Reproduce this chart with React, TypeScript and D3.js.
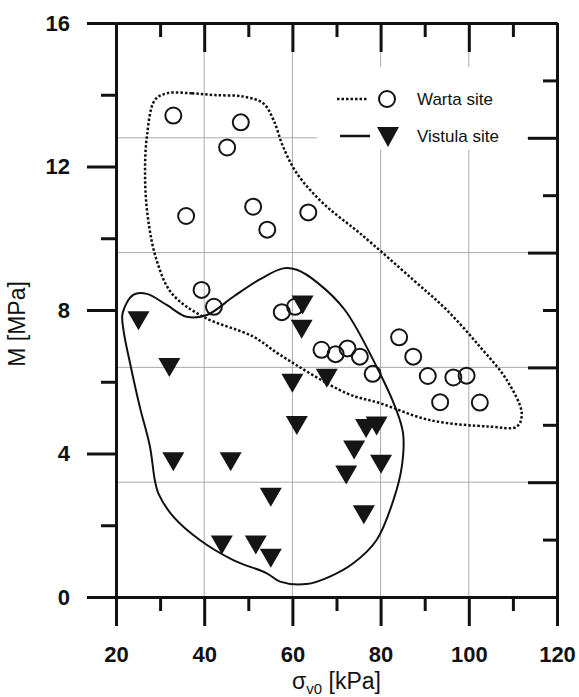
import React, { useEffect, useRef } from 'react';
import * as d3 from 'd3';

// Warta site (open circles)
const wartaStress = [33.0, 48.3, 45.2, 35.9, 51.1, 54.3, 63.6, 39.4, 42.2, 57.6, 60.6, 66.6, 69.8, 72.5, 75.3, 78.2, 84.2, 87.4, 90.7, 96.5, 99.5, 93.5, 102.5];
const wartaM = [13.42, 13.23, 12.53, 10.62, 10.88, 10.24, 10.72, 8.56, 8.09, 7.94, 8.09, 6.89, 6.77, 6.93, 6.7, 6.22, 7.24, 6.7, 6.16, 6.12, 6.17, 5.43, 5.42];

// Vistula site (filled triangles)
const vistulaStress = [25.1, 32.1, 33.0, 46.0, 55.1, 44.0, 51.7, 55.1, 60.0, 61.0, 62.3, 62.1, 67.8, 76.7, 79.1, 74.0, 80.1, 72.2, 76.2];
const vistulaM = [7.7, 6.4, 3.77, 3.77, 2.78, 1.45, 1.45, 1.08, 5.96, 4.78, 8.14, 7.46, 6.1, 4.7, 4.77, 4.1, 3.7, 3.4, 2.29];

// hand drawn envelopes (data units)
const wartaHullX = [31.5, 37.2, 42.4, 48.9, 53.4, 55.7, 57.9, 61.0, 67.0, 75.3, 87.4, 95.0, 102.5, 108.6, 112.0, 110.9, 104.8, 91.2, 79.9, 72.3, 57.2, 51.1, 39.8, 32.6, 29.2, 27.3, 26.6, 27.0, 28.8];
const wartaHullY = [14.04, 14.04, 13.99, 13.95, 13.76, 13.3, 12.55, 11.81, 10.97, 10.14, 8.84, 8.0, 6.98, 6.05, 5.12, 4.75, 4.75, 4.93, 5.4, 5.68, 6.75, 7.26, 7.81, 8.47, 9.39, 10.51, 11.62, 12.83, 13.85];
const vistulaHullX = [21.5, 23.9, 27.0, 31.5, 36.0, 40.6, 46.6, 52.7, 57.9, 61.0, 65.8, 71.9, 79.1, 83.3, 85.1, 84.8, 82.9, 79.1, 73.8, 68.5, 63.2, 57.2, 54.2, 46.6, 39.0, 33.0, 29.6, 28.8, 27.7, 25.4, 23.2, 21.7];
const vistulaHullY = [7.91, 8.42, 8.45, 8.14, 7.81, 7.86, 8.37, 8.86, 9.16, 9.12, 8.75, 8.0, 6.42, 5.3, 4.56, 3.63, 2.7, 1.59, 0.94, 0.57, 0.36, 0.43, 0.66, 1.03, 1.59, 2.24, 2.89, 3.26, 4.19, 5.3, 6.51, 7.44];

const xMajor = [20, 40, 60, 80, 100, 120];
const xMinor = [30, 50, 70, 90, 110];
const yMajor = [0, 4, 8, 12, 16];
const yMinor = [2, 6, 10, 14];
const rightTicks = [1.6, 3.2, 4.8, 6.4, 8.0, 9.6, 11.2, 12.8, 14.4];
const gridX = [40, 60, 80, 100];
const gridY = [3.2, 6.4, 9.6, 12.8];

const FONT = "Arial, 'Liberation Sans', sans-serif";

const App = () => {
    const svgRef = useRef<SVGSVGElement>(null);
    const width = 579;
    const height = 697;

    useEffect(() => {
        const root = d3.select(svgRef.current);
        root.selectAll('*').remove();

        const margin = { top: 23, right: 22, bottom: 100, left: 116 };
        const innerWidth = width - margin.left - margin.right;
        const innerHeight = height - margin.top - margin.bottom;

        const svg = root.append('g')
            .attr('transform', `translate(${margin.left},${margin.top})`);

        const x = d3.scaleLinear().domain([20, 120]).range([0, innerWidth]);
        const y = d3.scaleLinear().domain([0, 16]).range([innerHeight, 0]);

        // grid
        svg.append('g').selectAll('line').data(gridX).enter().append('line')
            .attr('x1', d => x(d)).attr('x2', d => x(d))
            .attr('y1', 0).attr('y2', innerHeight)
            .attr('stroke', '#ababab').attr('stroke-width', 1);
        svg.append('g').selectAll('line').data(gridY).enter().append('line')
            .attr('x1', 0).attr('x2', innerWidth)
            .attr('y1', d => y(d)).attr('y2', d => y(d))
            .attr('stroke', '#ababab').attr('stroke-width', 1);

        // legend background hides grid
        svg.append('rect')
            .attr('x', 201).attr('y', 44)
            .attr('width', 210).attr('height', 83)
            .attr('fill', '#fff');

        // envelopes
        const hull = d3.line<number>()
            .x(d => x(d[0]))
            .y(d => y(d[1]))
            .curve(d3.curveCatmullRomClosed.alpha(0.5));

        svg.append('path')
            .attr('d', hull(wartaHullX.map((v, i) => [v, wartaHullY[i]]) as any))
            .attr('fill', 'none')
            .attr('stroke', '#111')
            .attr('stroke-width', 2.5)
            .attr('stroke-dasharray', '2.5 2');

        svg.append('path')
            .attr('d', hull(vistulaHullX.map((v, i) => [v, vistulaHullY[i]]) as any))
            .attr('fill', 'none')
            .attr('stroke', '#111')
            .attr('stroke-width', 2);

        // markers
        const tri = 'M-11,-9.5L11,-9.5L0,9.5Z';
        svg.append('g').selectAll('path').data(vistulaStress).enter().append('path')
            .attr('d', tri)
            .attr('transform', (d, i) => `translate(${x(d)},${y(vistulaM[i])})`)
            .attr('fill', '#151515');

        svg.append('g').selectAll('circle').data(wartaStress).enter().append('circle')
            .attr('cx', d => x(d))
            .attr('cy', (d, i) => y(wartaM[i]))
            .attr('r', 8)
            .attr('fill', 'none')
            .attr('stroke', '#151515')
            .attr('stroke-width', 2);

        // axes
        const styleAxis = (g: any) => {
            g.selectAll('path, line').attr('stroke', '#111').attr('stroke-width', 3);
            g.selectAll('text')
                .attr('font-family', FONT)
                .attr('font-size', 22)
                .attr('font-weight', 'bold')
                .attr('fill', '#111');
        };

        svg.append('g')
            .call(d3.axisLeft(y).tickValues(yMajor).tickSize(29).tickSizeOuter(0).tickPadding(17).tickFormat(d3.format('d')))
            .call(styleAxis);
        svg.append('g')
            .call(d3.axisLeft(y).tickValues(yMinor).tickSize(15).tickSizeOuter(0).tickFormat(() => ''))
            .call(styleAxis);

        svg.append('g')
            .attr('transform', `translate(0,${innerHeight})`)
            .call(d3.axisBottom(x).tickValues(xMajor).tickSize(29).tickSizeOuter(0).tickPadding(20))
            .call(styleAxis);
        svg.append('g')
            .attr('transform', `translate(0,${innerHeight})`)
            .call(d3.axisBottom(x).tickValues(xMinor).tickSize(14).tickSizeOuter(0).tickFormat(() => ''))
            .call(styleAxis);

        // top and right: inward ticks
        svg.append('g')
            .call(d3.axisBottom(x).tickValues(xMajor).tickSize(29).tickSizeOuter(0).tickFormat(() => ''))
            .call(styleAxis);
        svg.append('g')
            .call(d3.axisBottom(x).tickValues(xMinor).tickSize(14).tickSizeOuter(0).tickFormat(() => ''))
            .call(styleAxis);
        const rightAxis = svg.append('g')
            .attr('transform', `translate(${innerWidth},0)`)
            .call(d3.axisLeft(y).tickValues(rightTicks).tickSizeOuter(0).tickFormat(() => ''))
            .call(styleAxis);
        rightAxis.selectAll('.tick line')
            .attr('x2', (d: any) => (Math.round(d * 10) % 32 === 0 ? -29 : -14));

        // axis titles
        svg.append('text')
            .attr('x', x(70))
            .attr('y', innerHeight + 92)
            .attr('text-anchor', 'middle')
            .attr('font-family', FONT)
            .attr('font-size', 23)
            .attr('fill', '#111')
            .html('σ<tspan font-size="15" dy="5">v0</tspan><tspan dy="-5"> [kPa]</tspan>');

        svg.append('text')
            .attr('transform', 'rotate(-90)')
            .attr('x', -(y(8) + 14))
            .attr('y', -91)
            .attr('text-anchor', 'middle')
            .attr('font-family', FONT)
            .attr('font-size', 23)
            .attr('fill', '#111')
            .text('M [MPa]');

        // legend
        const lg = svg.append('g').attr('transform', 'translate(221,76)');
        lg.append('line')
            .attr('x1', 0).attr('x2', 31).attr('y1', 0).attr('y2', 0)
            .attr('stroke', '#111').attr('stroke-width', 2.5).attr('stroke-dasharray', '2.5 2');
        lg.append('circle')
            .attr('cx', 50).attr('cy', 0).attr('r', 8)
            .attr('fill', 'none').attr('stroke', '#111').attr('stroke-width', 2);
        lg.append('text')
            .attr('x', 80).attr('y', 6)
            .attr('font-family', FONT).attr('font-size', 17).attr('fill', '#111')
            .text('Warta site');
        lg.append('line')
            .attr('x1', 3).attr('x2', 33).attr('y1', 37).attr('y2', 37)
            .attr('stroke', '#111').attr('stroke-width', 2.5);
        lg.append('path')
            .attr('d', 'M-11,-10L11,-10L0,10Z')
            .attr('transform', 'translate(51,38)')
            .attr('fill', '#151515');
        lg.append('text')
            .attr('x', 80).attr('y', 43)
            .attr('font-family', FONT).attr('font-size', 17).attr('fill', '#111')
            .text('Vistula site');
    }, []);

    return (
        <svg
            ref={svgRef}
            width={width}
            height={height}
            style={{ position: 'absolute', left: 0, top: 0, background: '#fff' }}
        />
    );
};

export default App;
